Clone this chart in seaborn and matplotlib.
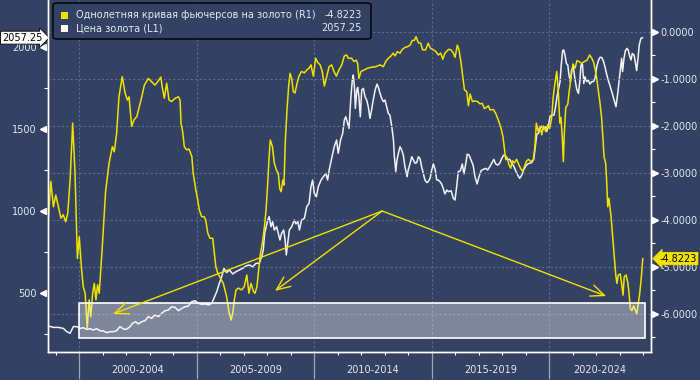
import numpy as np
import pandas as pd
import seaborn as sns
import matplotlib.pyplot as plt
from matplotlib.patches import Rectangle, FancyBboxPatch

# gold price (L1)
gold_years = [1998.69, 1998.91, 1999.12, 1999.33, 1999.48, 1999.62, 1999.76, 1999.90, 2000.04, 2000.18,
              2000.33, 2000.47, 2000.61, 2000.75, 2000.89, 2001.04, 2001.18, 2001.32, 2001.46, 2001.60,
              2001.74, 2001.89, 2002.00, 2002.14, 2002.28, 2002.41, 2002.52, 2002.67, 2002.81, 2002.95,
              2003.09, 2003.23, 2003.38, 2003.52, 2003.66, 2003.80, 2003.94, 2004.09, 2004.23, 2004.37,
              2004.51, 2004.65, 2004.79, 2004.94, 2005.08, 2005.22, 2005.37, 2005.51, 2005.65, 2005.74,
              2005.86, 2005.97, 2006.07, 2006.17, 2006.28, 2006.40, 2006.54, 2006.68, 2006.82, 2006.96,
              2007.11, 2007.25, 2007.39, 2007.53, 2007.67, 2007.77, 2007.84, 2007.90, 2008.03, 2008.09,
              2008.17, 2008.24, 2008.31, 2008.41, 2008.48, 2008.55, 2008.62, 2008.71, 2008.77, 2008.82,
              2008.88, 2008.95, 2009.05, 2009.16, 2009.23, 2009.31, 2009.38, 2009.47, 2009.59, 2009.69,
              2009.79, 2009.87, 2009.94, 2010.01, 2010.10, 2010.18, 2010.30, 2010.40, 2010.50, 2010.58,
              2010.65, 2010.75, 2010.86, 2010.96, 2011.03, 2011.13, 2011.22, 2011.29, 2011.35, 2011.43,
              2011.49, 2011.53, 2011.57, 2011.63, 2011.67, 2011.72, 2011.76, 2011.82, 2011.86, 2011.91,
              2011.97, 2012.03, 2012.10, 2012.17, 2012.24, 2012.31, 2012.38, 2012.45, 2012.52, 2012.60,
              2012.68, 2012.74, 2012.81, 2012.88, 2012.95, 2013.02, 2013.09, 2013.16, 2013.23, 2013.31,
              2013.38, 2013.42, 2013.48, 2013.53, 2013.59, 2013.66, 2013.73, 2013.80, 2013.87, 2013.96,
              2014.01, 2014.09, 2014.16, 2014.23, 2014.30, 2014.37, 2014.44, 2014.51, 2014.58, 2014.65,
              2014.72, 2014.80, 2014.86, 2014.94, 2015.01, 2015.08, 2015.16, 2015.22, 2015.29, 2015.36,
              2015.43, 2015.50, 2015.57, 2015.65, 2015.72, 2015.83, 2015.93, 2016.00, 2016.07, 2016.14,
              2016.23, 2016.31, 2016.38, 2016.46, 2016.52, 2016.60, 2016.68, 2016.77, 2016.85, 2016.94,
              2017.02, 2017.11, 2017.20, 2017.31, 2017.39, 2017.48, 2017.56, 2017.65, 2017.73, 2017.82,
              2017.90, 2017.99, 2018.07, 2018.16, 2018.24, 2018.33, 2018.41, 2018.50, 2018.58, 2018.67,
              2018.75, 2018.84, 2018.92, 2019.01, 2019.09, 2019.18, 2019.26, 2019.35, 2019.40, 2019.48,
              2019.55, 2019.62, 2019.69, 2019.77, 2019.86, 2019.90, 2019.97, 2020.04, 2020.11, 2020.21,
              2020.28, 2020.34, 2020.40, 2020.47, 2020.52, 2020.58, 2020.63, 2020.68, 2020.74, 2020.80,
              2020.85, 2020.91, 2020.96, 2021.03, 2021.11, 2021.18, 2021.25, 2021.31, 2021.36, 2021.42,
              2021.48, 2021.53, 2021.60, 2021.67, 2021.74, 2021.82, 2021.89, 2021.96, 2022.03, 2022.10,
              2022.17, 2022.24, 2022.31, 2022.38, 2022.45, 2022.52, 2022.60, 2022.67, 2022.74, 2022.81,
              2022.85, 2022.92, 2022.98, 2023.05, 2023.09, 2023.13, 2023.19, 2023.25, 2023.32, 2023.37,
              2023.43, 2023.49, 2023.54, 2023.62, 2023.67, 2023.73, 2023.79, 2023.84, 2023.91, 2023.98]
gold_price = [299, 290, 290, 284, 264, 254, 295, 295, 284, 288,
              278, 282, 274, 282, 270, 268, 258, 264, 264, 270,
              295, 280, 278, 290, 315, 325, 311, 325, 331, 356,
              345, 366, 356, 376, 392, 396, 416, 412, 392, 406,
              416, 420, 447, 453, 437, 431, 433, 427, 437, 467,
              508, 559, 599, 650, 624, 640, 616, 630, 640, 650,
              665, 671, 660, 681, 681, 721, 762, 864, 945, 965,
              904, 935, 884, 904, 864, 823, 864, 884, 823, 732,
              803, 884, 904, 945, 921, 935, 884, 945, 955, 1026,
              1047, 1148, 1189, 1108, 1087, 1148, 1189, 1209, 1230, 1189,
              1254, 1321, 1392, 1433, 1352, 1433, 1474, 1555, 1575, 1535,
              1504, 1596, 1697, 1799, 1829, 1758, 1626, 1738, 1754, 1697,
              1575, 1738, 1748, 1697, 1677, 1636, 1565, 1616, 1677, 1738,
              1774, 1754, 1717, 1687, 1667, 1677, 1636, 1596, 1585, 1514,
              1433, 1331, 1240, 1311, 1352, 1392, 1372, 1341, 1270, 1209,
              1250, 1291, 1331, 1311, 1291, 1295, 1331, 1321, 1270, 1230,
              1189, 1173, 1179, 1199, 1250, 1287, 1250, 1189, 1189, 1179,
              1165, 1138, 1104, 1128, 1118, 1124, 1077, 1067, 1148, 1240,
              1246, 1287, 1226, 1291, 1347, 1341, 1311, 1280, 1209, 1165,
              1209, 1246, 1254, 1260, 1250, 1270, 1291, 1315, 1287, 1280,
              1291, 1321, 1341, 1335, 1315, 1315, 1291, 1274, 1246, 1219,
              1199, 1219, 1250, 1274, 1287, 1291, 1295, 1315, 1372, 1469,
              1474, 1504, 1518, 1498, 1514, 1484, 1514, 1575, 1585, 1585,
              1636, 1697, 1742, 1789, 1890, 1978, 1982, 1951, 1900, 1890,
              1829, 1789, 1860, 1880, 1799, 1742, 1717, 1789, 1890, 1896,
              1778, 1819, 1789, 1799, 1774, 1789, 1789, 1809, 1880, 1917,
              1937, 1937, 1917, 1880, 1835, 1799, 1762, 1728, 1693, 1656,
              1636, 1713, 1789, 1880, 1931, 1850, 1931, 1978, 1992, 1982,
              1945, 1921, 1961, 1951, 1910, 1856, 1937, 2012, 2053, 2057.25]

# one-year gold futures curve (R1)
curve_years = [1998.69, 1998.80, 1998.91, 1999.01, 1999.12, 1999.23, 1999.33, 1999.43, 1999.52, 1999.62,
               1999.73, 1999.83, 1999.93, 2000.01, 2000.11, 2000.18, 2000.26, 2000.35, 2000.43, 2000.50,
               2000.58, 2000.65, 2000.72, 2000.79, 2000.86, 2000.99, 2001.13, 2001.28, 2001.42, 2001.50,
               2001.60, 2001.70, 2001.84, 2001.96, 2002.06, 2002.13, 2002.24, 2002.34, 2002.46, 2002.55,
               2002.67, 2002.78, 2002.95, 2003.09, 2003.23, 2003.35, 2003.48, 2003.55, 2003.63, 2003.73,
               2003.83, 2003.94, 2004.09, 2004.23, 2004.30, 2004.34, 2004.41, 2004.48, 2004.58, 2004.68,
               2004.80, 2004.86, 2004.97, 2005.05, 2005.12, 2005.22, 2005.32, 2005.39, 2005.48, 2005.57,
               2005.69, 2005.76, 2005.82, 2005.90, 2006.14, 2006.28, 2006.38, 2006.47, 2006.54, 2006.61,
               2006.68, 2006.78, 2006.92, 2007.03, 2007.14, 2007.23, 2007.32, 2007.42, 2007.49, 2007.57,
               2007.63, 2007.72, 2007.80, 2007.89, 2007.96, 2008.03, 2008.09, 2008.14, 2008.23, 2008.31,
               2008.40, 2008.48, 2008.54, 2008.60, 2008.67, 2008.72, 2008.78, 2008.85, 2008.92, 2008.98,
               2009.05, 2009.12, 2009.19, 2009.28, 2009.36, 2009.47, 2009.59, 2009.69, 2009.79, 2009.87,
               2009.97, 2010.07, 2010.16, 2010.26, 2010.35, 2010.44, 2010.54, 2010.64, 2010.75, 2010.85,
               2010.95, 2011.06, 2011.18, 2011.29, 2011.39, 2011.46, 2011.60, 2011.70, 2011.80, 2011.86,
               2011.91, 2012.00, 2012.13, 2012.28, 2012.45, 2012.62, 2012.81, 2012.95, 2013.05, 2013.16,
               2013.28, 2013.37, 2013.45, 2013.54, 2013.66, 2013.76, 2013.87, 2013.99, 2014.09, 2014.18,
               2014.27, 2014.34, 2014.44, 2014.54, 2014.62, 2014.75, 2014.86, 2014.96, 2015.08, 2015.19,
               2015.29, 2015.39, 2015.48, 2015.57, 2015.67, 2015.72, 2015.83, 2015.93, 2016.00, 2016.10,
               2016.17, 2016.26, 2016.33, 2016.40, 2016.50, 2016.57, 2016.64, 2016.74, 2016.85, 2016.96,
               2017.06, 2017.16, 2017.25, 2017.35, 2017.42, 2017.49, 2017.63, 2017.73, 2017.84, 2017.96,
               2018.04, 2018.10, 2018.16, 2018.21, 2018.30, 2018.37, 2018.44, 2018.52, 2018.62, 2018.72,
               2018.81, 2018.88, 2018.95, 2019.03, 2019.12, 2019.23, 2019.33, 2019.40, 2019.46, 2019.54,
               2019.62, 2019.69, 2019.77, 2019.86, 2019.94, 2020.03, 2020.11, 2020.18, 2020.26, 2020.33,
               2020.40, 2020.46, 2020.51, 2020.57, 2020.61, 2020.65, 2020.71, 2020.80, 2020.85, 2020.94,
               2021.02, 2021.11, 2021.19, 2021.28, 2021.39, 2021.50, 2021.62, 2021.73, 2021.82, 2021.90,
               2021.97, 2022.04, 2022.10, 2022.17, 2022.24, 2022.30, 2022.34, 2022.41, 2022.45, 2022.50,
               2022.55, 2022.64, 2022.71, 2022.78, 2022.84, 2022.89, 2022.95, 2023.03, 2023.09, 2023.15,
               2023.20, 2023.28, 2023.35, 2023.40, 2023.46, 2023.53, 2023.60, 2023.67, 2023.73, 2023.79,
               2023.86, 2023.93, 2023.99]
curve_vals = [-4.00, -3.18, -3.72, -3.47, -3.72, -3.96, -3.89, -4.04, -3.86, -3.15,
              -1.94, -3.01, -4.82, -4.36, -5.06, -5.42, -5.56, -6.30, -5.70, -6.06,
              -5.56, -5.35, -5.70, -5.38, -5.56, -4.57, -3.40, -2.79, -2.44, -2.55,
              -2.16, -1.38, -0.95, -1.30, -1.45, -1.38, -2.01, -1.87, -1.80, -1.62,
              -1.38, -1.13, -0.99, -1.06, -1.13, -1.06, -0.96, -1.20, -1.41, -1.09,
              -1.45, -1.48, -1.41, -1.38, -1.45, -1.94, -2.12, -2.44, -2.51, -2.49,
              -2.65, -3.01, -3.36, -3.57, -3.79, -3.93, -3.93, -4.00, -4.28, -4.39,
              -4.39, -4.71, -4.99, -5.13, -5.35, -5.63, -5.95, -6.13, -5.99, -5.70,
              -5.49, -5.45, -5.49, -5.42, -5.17, -5.56, -5.35, -5.52, -5.56, -5.42,
              -5.13, -4.71, -4.50, -4.14, -3.79, -3.22, -2.65, -2.30, -2.44, -2.79,
              -2.94, -3.01, -3.33, -3.40, -3.15, -3.26, -2.30, -1.66, -1.16, -0.88,
              -0.99, -1.27, -1.30, -1.09, -0.94, -0.84, -0.87, -0.81, -0.77, -0.70,
              -0.94, -0.56, -0.65, -0.70, -0.84, -1.15, -0.95, -0.74, -0.70, -0.84,
              -0.94, -0.81, -0.70, -0.51, -0.49, -0.56, -0.56, -0.63, -0.60, -0.68,
              -0.99, -0.84, -0.81, -0.77, -0.75, -0.74, -0.70, -0.74, -0.63, -0.56,
              -0.51, -0.45, -0.51, -0.42, -0.45, -0.37, -0.33, -0.31, -0.28, -0.18,
              -0.18, -0.10, -0.23, -0.24, -0.38, -0.38, -0.24, -0.35, -0.38, -0.42,
              -0.49, -0.45, -0.58, -0.45, -0.40, -0.37, -0.38, -0.45, -0.54, -0.28,
              -0.38, -0.67, -0.95, -1.23, -1.27, -1.57, -1.32, -1.48, -1.47, -1.48,
              -1.53, -1.52, -1.63, -1.60, -1.57, -1.66, -1.65, -1.73, -1.87, -2.05,
              -2.23, -2.48, -2.72, -2.67, -2.83, -2.90, -2.74, -2.79, -2.71, -2.83,
              -2.92, -2.97, -2.87, -2.76, -2.71, -2.76, -2.72, -2.44, -1.94, -2.12,
              -2.01, -2.19, -2.00, -2.12, -1.98, -2.05, -1.84, -1.38, -1.06, -0.84,
              -1.30, -1.94, -1.82, -2.30, -2.76, -2.16, -1.62, -1.53, -1.30, -0.95,
              -0.68, -0.77, -0.61, -0.63, -0.67, -0.63, -0.60, -0.49, -0.56, -0.65,
              -0.81, -1.02, -1.25, -1.52, -1.84, -2.30, -2.65, -2.79, -3.15, -3.72,
              -3.54, -3.93, -4.36, -4.78, -5.17, -5.35, -5.17, -5.15, -5.35, -5.60,
              -5.21, -5.17, -5.33, -5.53, -5.88, -5.93, -5.83, -5.91, -6.00, -5.81,
              -5.56, -5.21, -4.8223]

period_starts = [2000, 2005, 2010, 2015, 2020]
period_labels = ["2000-2004", "2005-2009", "2010-2014", "2015-2019", "2020-2024"]
left_ticks = [500, 1000, 1500, 2000]
left_minor = [250, 750, 1250, 1750]
right_ticks = [0, -1, -2, -3, -4, -5, -6]
right_minor = [-0.5, -1.5, -2.5, -3.5, -4.5, -5.5, -6.5]

legend_names = ["Однолетняя кривая фьючерсов на золото (R1)", "Цена золота (L1)"]
last_curve = -4.8223
last_gold = 2057.25

# annotation: highlighted box and arrows (year, R1 units)
box_x = (2000.0, 2024.1)
box_y = (-6.51, -5.77)
arrow_origin = (2012.9, -3.81)
arrow_targets = [(2001.45, -6.0), (2008.34, -5.51), (2022.43, -5.62)]

BG = "#334162"
YEL = "#f2e200"
WHT = "#f2f2f2"
GRID = "#5a6d90"
TXT = "#e4e9f2"

plt.rcParams['font.family'] = ['DejaVu Sans']
plt.rcParams['font.size'] = 7

fig = plt.figure(figsize=(7, 3.8), dpi=100, facecolor=BG)
ax = fig.add_axes([48 / 700, 28 / 380, 603 / 700, 352 / 380])
ax.set_facecolor(BG)
ax2 = ax.twinx()

sns.lineplot(x=gold_years, y=gold_price, ax=ax, color=WHT, linewidth=1.1)
sns.lineplot(x=curve_years, y=curve_vals, ax=ax2, color=YEL, linewidth=1.1)

ax.set_xlim(1998.68, 2024.34)
ax.set_ylim(140, 2287)
ax2.set_ylim(-6.81, 0.68)
for a in (ax, ax2):
    a.set_xlabel("")
    a.set_ylabel("")
    for s in a.spines.values():
        s.set_color("white")
        s.set_linewidth(1)
    a.spines["top"].set_visible(False)

# x axis: 5-year separators + yearly minor ticks
ax.set_xticks(period_starts)
ax.set_xticks(range(1999, 2025), minor=True)
ax.tick_params(axis="x", which="major", length=19.5, width=0.9, color="#9ba6ba", labelbottom=False)
ax.tick_params(axis="x", which="minor", length=2.5, width=0.8, color="white")
ax.grid(axis="x", which="major", color=GRID, ls=(0, (2, 2)), lw=0.8)
xmax = ax.get_xlim()[1]
edges = period_starts + [xmax]
for i, lab in enumerate(period_labels):
    cx = (edges[i] + min(edges[i] + 5, edges[i + 1])) / 2
    ax.annotate(lab, xy=(cx, 0), xycoords=("data", "axes fraction"), xytext=(0, -13),
                textcoords="offset points", ha="center", va="center", color=TXT, fontsize=7)

# left axis (gold)
ax.set_yticks(left_ticks)
ax.set_yticks(left_minor, minor=True)
ax.set_yticklabels([str(v) for v in left_ticks])
ax.tick_params(axis="y", which="major", length=0, pad=8, labelcolor=TXT, labelsize=7)
ax.tick_params(axis="y", which="minor", length=3, width=0.8, color="white")
ax.plot([-0.0075] * len(left_ticks), left_ticks, ls="none", marker="<", ms=4.5, color="white",
        transform=ax.get_yaxis_transform(), clip_on=False)

# right axis (curve)
ax2.set_yticks(right_ticks)
ax2.set_yticks(right_minor, minor=True)
ax2.set_yticklabels([f"{v:.4f}" for v in right_ticks])
ax2.tick_params(axis="y", which="major", length=0, pad=7, labelcolor=TXT, labelsize=7)
ax2.tick_params(axis="y", which="minor", length=3, width=0.8, color="white")
ax2.grid(axis="y", which="major", color=GRID, ls=(0, (2, 2)), lw=0.8)
ax2.set_axisbelow(True)
ax2.plot([1.0066] * len(right_ticks), right_ticks, ls="none", marker=">", ms=4.5, color="white",
         transform=ax2.get_yaxis_transform(), clip_on=False)

# highlighted region and arrows
ax2.add_patch(Rectangle((box_x[0], box_y[0]), box_x[1] - box_x[0], box_y[1] - box_y[0],
                        facecolor=(1, 1, 1, 0.37), edgecolor="white", lw=1.2, zorder=5))
for tx, ty in arrow_targets:
    ax2.annotate("", xy=(tx, ty), xytext=arrow_origin,
                 arrowprops=dict(arrowstyle="->,head_length=0.7,head_width=0.3", color=YEL,
                                 lw=1.0, shrinkA=0, shrinkB=0, mutation_scale=14), zorder=6)

# last value tags
ax.annotate(f"{last_gold:.2f}", xy=(0, last_gold), xycoords=ax.get_yaxis_transform(),
            xytext=(-4, 0), textcoords="offset points", ha="right", va="center", color="black",
            fontsize=7, annotation_clip=False,
            bbox=dict(boxstyle="rarrow,pad=0.15", fc="white", ec="black", lw=0.6))
ax2.annotate(f"{last_curve:.4f}", xy=(1, last_curve), xycoords=ax2.get_yaxis_transform(),
             xytext=(6, 0), textcoords="offset points", ha="left", va="center", color="black",
             fontsize=7, annotation_clip=False,
             bbox=dict(boxstyle="larrow,pad=0.12", fc=YEL, ec=YEL, lw=0.6))

# legend box with last values
fig.patches.append(FancyBboxPatch((53 / 700, 341 / 380), 318 / 700, 36 / 380,
                                  boxstyle="round,pad=0,rounding_size=0.006", transform=fig.transFigure,
                                  facecolor=BG, edgecolor="black", lw=1.0, zorder=10))
rows = [(legend_names[0], f"{last_curve:.4f}", YEL), (legend_names[1], f"{last_gold:.2f}", "white")]
for i, (name, val, col) in enumerate(rows):
    yc = 1 - (15 + 13 * i) / 380
    fig.patches.append(Rectangle((61 / 700, yc - 3.5 / 380), 7 / 700, 7 / 380, transform=fig.transFigure,
                                 facecolor=col, edgecolor="none", zorder=11))
    fig.text(76 / 700, yc, name, ha="left", va="center", color=TXT, fontsize=7, zorder=12)
    fig.text(362 / 700, yc, val, ha="right", va="center", color=TXT, fontsize=7, zorder=12)

plt.savefig("out.png", dpi=100, facecolor=BG)
